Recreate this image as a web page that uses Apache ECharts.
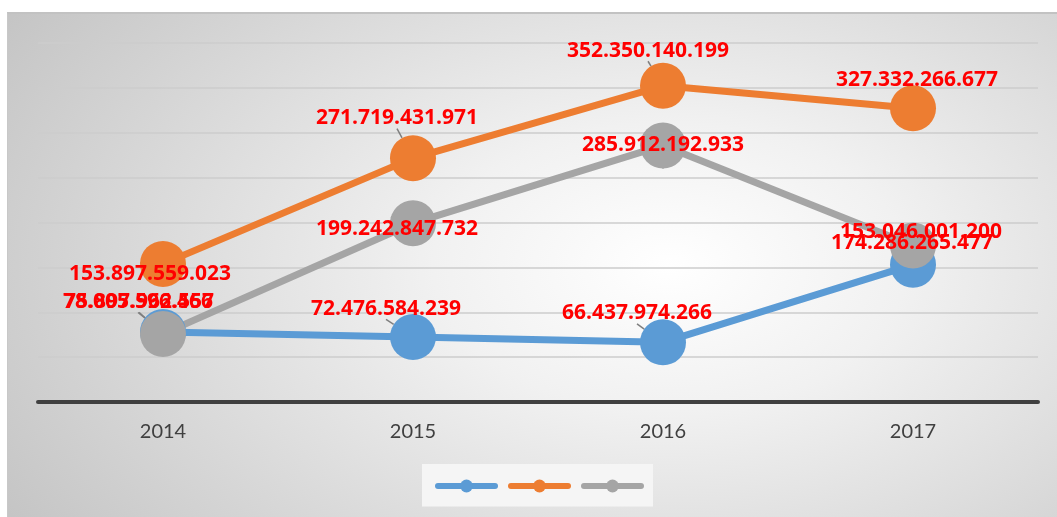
<!DOCTYPE html>
<html>
<head>
<meta charset="utf-8">
<script src="https://cdn.jsdelivr.net/npm/echarts@6/dist/echarts.min.js"></script>
<style>
    html, body { margin: 0; padding: 0; background: #ffffff; }
    #frame {
        position: absolute; left: 7px; top: 12px; width: 1050px; height: 505px;
        border-top: 2px solid #c2c2c2; border-left: 1px solid #c8c8c8;
        background: radial-gradient(ellipse 75% 95% at 63% 50%, #ffffff 0%, #f1f1f1 30%, #c4c4c4 100%);
    }
    #chart { position: absolute; left: 0; top: 0; width: 1057px; height: 517px; }
</style>
</head>
<body>
<div id="frame"></div>
<div id="chart"></div>
<script>
    var years = ['2014', '2015', '2016', '2017'];
    var blueValues = [78005596466, 72476584239, 66437974266, 153046001200];
    var orangeValues = [153897559023, 271719431971, 352350140199, 327332266677];
    var grayValues = [75897962557, 199242847732, 285912192933, 174286265477];

    // where each label sits relative to its point (px)
    var blueShift = [[-25, -30], [-27, -28], [-26, -29], [8, -33]];
    var orangeShift = [[-13, 10], [-16, -40], [-15, -35], [4, -28]];
    var grayShift = [[-24, -32], [-16, 6], [0, 0], [-1, -3]];

    function fmt(v) {
        return String(v).replace(/\B(?=(\d{3})+(?!\d))/g, '.');
    }

    function makeSeries(name, values, color, shift) {
        return {
            name: name,
            type: 'line',
            data: values,
            symbol: 'circle',
            symbolSize: 46,
            lineStyle: { color: color, width: 7 },
            itemStyle: { color: color },
            label: {
                show: true,
                position: 'inside',
                color: '#ff0000',
                fontFamily: 'Open Sans',
                fontWeight: 'bold',
                fontSize: 21,
                formatter: function (p) { return fmt(p.value); }
            },
            labelLine: { show: true, lineStyle: { color: '#7f7f7f', width: 1.5 } },
            labelLayout: function (p) {
                var s = shift[p.dataIndex];
                return { dx: s[0], dy: s[1] };
            },
            emphasis: { disabled: true },
            animation: false
        };
    }

    var myChart = echarts.init(document.getElementById('chart'));
    var option = {
        backgroundColor: 'transparent',
        grid: { left: 38, right: 19, top: 43, bottom: 115 },
        legend: {
            left: 422,
            top: 464,
            padding: [14, 9, 14, 13],
            backgroundColor: '#f5f5f5',
            itemWidth: 57,
            itemHeight: 16,
            itemGap: 10,
            lineStyle: { width: 6, cap: 'round' },
            formatter: function () { return ''; },
            data: ['a', 'b', 'c']
        },
        xAxis: {
            type: 'category',
            data: years,
            boundaryGap: true,
            axisLine: { lineStyle: { color: '#404040', width: 4 } },
            axisTick: { show: false },
            axisLabel: { color: '#404040', fontFamily: 'Lato', fontSize: 20, margin: 20 }
        },
        yAxis: {
            type: 'value',
            min: 0,
            max: 400000000000,
            interval: 50000000000,
            axisLabel: { show: false },
            axisLine: { show: false },
            axisTick: { show: false },
            splitLine: { lineStyle: { color: '#cdcdcd', width: 1.5 } }
        },
        series: [
            makeSeries('a', blueValues, '#5b9bd5', blueShift),
            makeSeries('b', orangeValues, '#ed7d31', orangeShift),
            makeSeries('c', grayValues, '#a5a5a5', grayShift)
        ]
    };
    myChart.setOption(option);
</script>
</body>
</html>
